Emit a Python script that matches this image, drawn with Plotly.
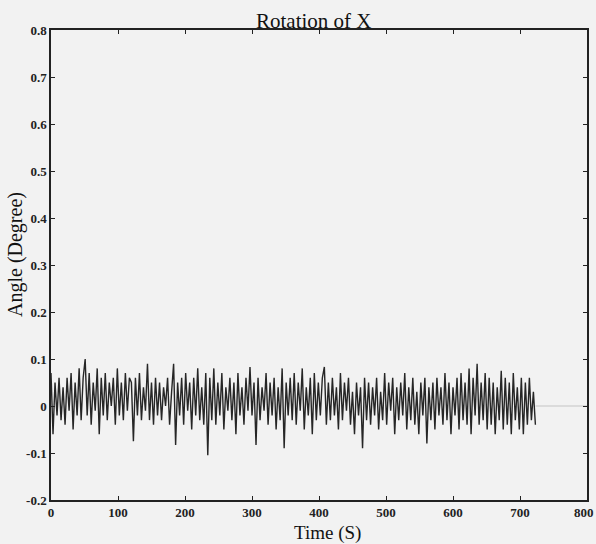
import plotly.graph_objects as go

# Time samples (s) and angle readings (degree), every ~3 s
step = 3
angle = [
    0.07, -0.06, 0.05, -0.02, 0.06, -0.03, 0.04, -0.04, 0.06, -0.01, 0.07, -0.05, 0.05, -0.02, 0.08, -0.03, 0.06, 0.10, -0.02, 0.07,
    -0.04, 0.05, -0.01, 0.08, -0.06, 0.06, -0.02, 0.07, -0.03, 0.05, 0.00, 0.06, -0.04, 0.08, -0.02, 0.05, -0.03, 0.07, -0.01, 0.06,
    0.05, -0.075, 0.06, -0.02, 0.07, -0.03, 0.04, -0.01, 0.09, -0.03, 0.05, -0.04, 0.06, -0.02, 0.05, -0.03, 0.04, 0.00, 0.06, -0.04,
    0.03, 0.09, -0.083, 0.05, -0.02, 0.06, -0.04, 0.07, -0.01, 0.05, -0.05, 0.06, -0.02, 0.08, -0.03, 0.04, -0.04, 0.07, -0.105, 0.06,
    -0.03, 0.08, -0.04, 0.05, -0.02, 0.07, -0.05, 0.04, -0.01, 0.06, -0.03, 0.05, -0.06, 0.07, -0.02, 0.04, -0.04, 0.06, -0.01, 0.083,
    -0.02, 0.05, -0.083, 0.06, -0.03, 0.04, -0.01, 0.07, -0.04, 0.05, -0.02, 0.06, -0.05, 0.04, -0.03, 0.08, -0.09, 0.05, -0.02, 0.06,
    -0.03, 0.07, -0.04, 0.05, -0.01, 0.08, -0.05, 0.04, -0.02, 0.06, -0.06, 0.07, -0.03, 0.05, -0.02, 0.06, 0.083, -0.04, 0.05, -0.03,
    0.06, -0.02, 0.04, -0.05, 0.07, -0.03, 0.05, -0.01, 0.06, -0.04, 0.03, -0.06, 0.05, -0.02, 0.04, -0.09, 0.06, -0.03, 0.05, -0.04,
    0.04, -0.02, 0.06, -0.05, 0.03, -0.03, 0.07, -0.04, 0.05, -0.01, 0.06, -0.06, 0.04, -0.03, 0.05, -0.02, 0.07, -0.05, 0.04, -0.03,
    0.06, -0.04, 0.03, -0.06, 0.05, -0.02, 0.06, -0.08, 0.04, -0.03, 0.05, -0.05, 0.06, -0.02, 0.04, -0.04, 0.07, -0.03, 0.05, -0.06,
    0.04, -0.02, 0.06, -0.05, 0.07, -0.03, 0.05, -0.04, 0.08, -0.06, 0.06, -0.02, 0.09, -0.04, 0.05, -0.03, 0.07, -0.05, 0.06, -0.04,
    0.05, -0.06, 0.04, -0.03, 0.075, -0.05, 0.06, -0.04, 0.05, -0.06, 0.07, -0.03, 0.04, -0.05, 0.06, -0.06, 0.05, -0.04, 0.06, -0.03,
    0.03, -0.04,
]
time = [i * step for i in range(len(angle))]

# flat reference segment after the recording ends
tail_time = [time[-1], 800]
tail_angle = [0, 0]

x_ticks = [0, 100, 200, 300, 400, 500, 600, 700, 800]
x_labels = ["0", "100", "200", "300", "400", "500", "600", "700", ""]  # last label drawn separately at the edge
x_last_label = "800"
y_ticks = [-0.2, -0.1, 0, 0.1, 0.2, 0.3, 0.4, 0.5, 0.6, 0.7, 0.8]
y_labels = ["-0.2", "-0.1", "0", "0.1", "0.2", "0.3", "0.4", "0.5", "0.6", "0.7", "0.8"]

SERIF = "Liberation Serif"
BG = "#f2f2f2"
TICKFONT = dict(family=SERIF, size=13, color="#222", weight="bold")

fig = go.Figure()
fig.add_trace(go.Scatter(x=tail_time, y=tail_angle, mode="lines",
                         line=dict(color="#c4c4c4", width=1), hoverinfo="skip"))
fig.add_trace(go.Scatter(x=time, y=angle, mode="lines",
                         line=dict(color="#262626", width=1.4)))

axis_common = dict(
    showgrid=False, zeroline=False, showline=True, linecolor="#222", linewidth=1.5,
    mirror="allticks", ticks="inside", ticklen=4, tickcolor="#222", tickwidth=1.2,
    tickfont=TICKFONT, automargin=False,
)

fig.update_layout(
    width=596, height=544,
    margin=dict(l=51, r=9, t=30, b=44, autoexpand=False),
    paper_bgcolor=BG, plot_bgcolor=BG,
    showlegend=False,
    xaxis=dict(range=[0, 800], tickvals=x_ticks, ticktext=x_labels, **axis_common),
    yaxis=dict(range=[-0.2, 0.8], tickvals=y_ticks, ticktext=y_labels, **axis_common),
    annotations=[
        dict(text="Rotation of X", x=0.49, y=1, xref="paper", yref="paper",
             xanchor="center", yanchor="bottom", yshift=-5, showarrow=False,
             font=dict(family=SERIF, size=21, color="#111")),
        dict(text="Time (S)", x=0.515, y=0, xref="paper", yref="paper",
             xanchor="center", yanchor="top", yshift=-20, showarrow=False,
             font=dict(family=SERIF, size=19, color="#111")),
        dict(text="Angle (Degree)", x=0, y=0.5, xref="paper", yref="paper",
             xanchor="center", yanchor="middle", xshift=-36, yshift=10, textangle=-90,
             showarrow=False, font=dict(family=SERIF, size=20, color="#111")),
        dict(text=x_last_label, x=1, y=0, xref="paper", yref="paper",
             xanchor="right", yanchor="top", xshift=9, yshift=-3, showarrow=False,
             font=TICKFONT),
    ],
)

fig.write_html(
    "out.html",
    config={"displayModeBar": False},
    post_script="document.body.style.margin='0';document.body.style.overflow='hidden';document.body.style.background='%s';" % BG,
)
